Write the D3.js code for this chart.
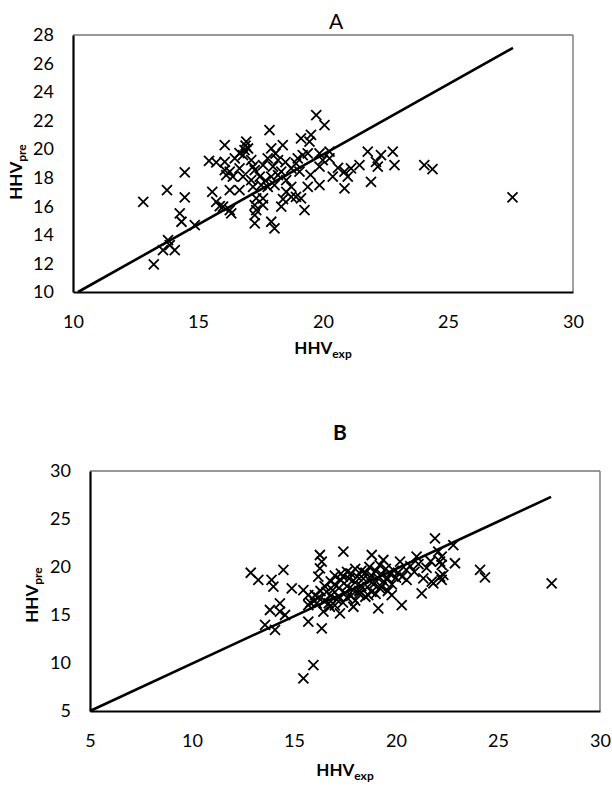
<!DOCTYPE html>
<html><head><meta charset="utf-8">
<script src="https://cdn.jsdelivr.net/npm/d3@7"></script>
<style>body{margin:0;background:#fff}svg{display:block;background:#fff}text{font-family:Lato,"Open Sans",sans-serif;fill:#000}</style>
</head><body><svg id="c" width="612" height="787"></svg>
<script>
// ---------- data ----------
const titleA = "A", titleB = "B";
const xTicksA = [10, 15, 20, 25, 30];
const yTicksA = [10, 12, 14, 16, 18, 20, 22, 24, 26, 28];
const xTicksB = [5, 10, 15, 20, 25, 30];
const yTicksB = [5, 10, 15, 20, 25, 30];
const lineA = [[10.2, 10], [27.6, 27.1]];
const lineB = [[5, 5], [27.6, 27.3]];

const pointsA = [
  [12.81,16.32],[13.76,17.14],[14.47,18.38],[14.47,16.63],[14.27,15.51],[14.34,14.92],[14.87,14.69],
  [13.80,13.64],[13.60,12.94],[14.07,12.94],[13.87,13.29],[13.23,11.94],
  [16.07,20.29],[15.44,19.19],[15.73,19.08],[15.57,17.02],[15.73,16.32],[15.87,16.02],[16.27,15.74],
  [16.33,15.51],[16.93,20.53],[16.86,19.94],[16.66,19.73],[16.13,18.19],[16.27,18.43],[16.39,18.08],
  [16.27,17.14],[16.66,17.14],[17.2,17.37],[17.2,18.78],[17.27,14.81],[17.33,15.74],[17.13,17.84],
  [19.73,22.39],[20.06,21.69],[17.86,21.34],[19.12,20.76],[19.52,21.0],[19.46,20.53],[18.39,20.29],
  [17.93,20.06],[19.86,19.71],[20.26,19.83],[20.26,19.36],[21.79,19.83],[22.32,19.59],[22.79,19.83],
  [22.86,18.89],[22.12,19.12],[22.19,18.78],[21.92,17.72],[21.46,18.89],[21.12,18.66],[20.86,18.43],
  [20.99,18.08],[20.86,17.26],[20.39,18.08],[19.86,18.78],[19.99,19.24],[19.86,17.49],[19.39,17.37],
  [19.06,18.43],[18.92,16.67],[19.12,16.56],[19.26,15.74],[18.33,15.98],[18.06,14.46],[17.93,14.92],
  [17.60,16.09],[17.27,16.09],[17.33,16.56],[16.0,15.98],[16.07,18.54],[16.07,19.12],[16.47,19.36],
  [16.80,19.59],[16.66,18.66],[16.80,18.08],[17.13,19.24],[17.27,18.54],[17.47,18.08],[17.53,17.49],
  [17.6,18.89],[17.79,19.36],[18.0,18.78],[18.20,19.24],[18.33,18.43],[18.53,17.84],[18.73,17.37],
  [18.73,16.67],[18.99,19.36],[19.19,19.59],[19.39,19.71],[18.53,17.02],[18.06,17.49],[17.79,17.37],
  [17.93,18.08],[18.20,18.19],[18.73,18.66],[18.92,19.01],[17.6,16.56],[17.27,15.39],[16.9,20.25],
  [17.0,20.05],[18.1,19.7],[18.5,19.1],[17.7,17.8],[18.4,16.5],[19.5,18.2],[20.6,18.7],
  [24.05,18.89],[24.38,18.61],[27.58,16.63]
];

const pointsB = [
  [12.88,19.4],[13.25,18.65],[13.9,18.65],[13.99,17.95],[14.48,19.69],[14.89,17.78],[13.82,15.52],
  [14.31,16.22],[14.31,15.34],[14.56,15.0],[13.58,13.96],[14.07,13.44],[15.46,17.6],[15.7,17.08],
  [15.7,16.04],[15.7,14.3],[16.36,13.61],[15.95,9.79],[15.46,8.4],[16.27,21.25],[16.36,20.55],
  [17.42,21.6],[16.27,19.86],[16.19,18.99],[16.03,17.08],[16.11,16.22],[16.44,15.34],[16.76,15.86],
  [17.25,15.17],[17.91,15.86],[18.64,17.08],[19.13,15.69],[20.28,16.04],[19.79,17.08],[18.81,21.25],
  [19.38,20.73],[20.2,20.55],[21.01,21.07],[21.26,17.26],[20.52,18.65],[21.91,22.98],[22.24,21.07],
  [22.24,20.21],[21.75,18.47],[22.24,18.65],[22.32,19.17],[22.07,21.6],[22.81,22.29],[22.89,20.39],
  [22.16,20.55],[24.12,19.69],[24.36,18.92],[27.63,18.3],[22.16,18.99],[21.83,18.3],[21.34,18.82],
  [16.8,17.0],[16.9,17.6],[17.0,18.2],[17.1,16.6],[17.2,17.8],[17.3,18.6],[17.4,19.0],[17.5,17.3],
  [17.6,18.0],[17.7,18.8],[17.8,19.3],[17.9,17.6],[18.0,18.4],[18.1,19.0],[18.2,17.2],[18.3,18.0],
  [18.4,18.8],[18.5,19.4],[18.6,17.9],[18.7,18.6],[18.8,19.1],[18.9,18.2],[19.0,19.6],[19.1,18.9],
  [19.2,17.8],[19.3,19.2],[19.4,18.5],[19.5,19.8],[19.6,18.8],[19.7,19.3],[19.8,18.2],[19.9,19.6],
  [20.0,18.9],[20.1,19.4],[20.3,19.0],[20.5,19.7],[20.7,20.1],[20.9,19.5],[21.1,20.3],[21.5,19.9],
  [21.7,20.6],[16.5,16.5],[16.6,17.4],[16.7,16.2],[17.0,16.0],[17.2,16.9],[17.4,16.3],[17.6,16.8],
  [17.8,17.0],[18.0,16.5],[18.2,17.5],[18.5,16.9],[18.8,17.4],[19.0,17.2],[19.3,17.9],[19.6,17.5],
  [17.3,19.3],[17.6,19.5],[18.0,19.8],[18.3,19.6],[18.7,20.0],[19.2,20.2],[17.0,19.1],[16.8,18.5],
  [16.5,18.0],[16.3,17.5],[16.0,16.5],[15.8,16.3],[16.2,16.8]
];

// ---------- drawing ----------
const svg = d3.select("#c");

function panel(cfg) {
  const x = d3.scaleLinear().domain(cfg.xDomain).range([cfg.left, cfg.right]);
  const y = d3.scaleLinear().domain(cfg.yDomain).range([cfg.bottom, cfg.top]);
  const g = svg.append("g");

  // plot-area border (top/right)
  g.append("line").attr("x1", cfg.left).attr("x2", cfg.right).attr("y1", cfg.top).attr("y2", cfg.top)
    .attr("stroke", "#333").attr("stroke-width", 1.2);
  g.append("line").attr("x1", cfg.right).attr("x2", cfg.right).attr("y1", cfg.top).attr("y2", cfg.bottom)
    .attr("stroke", "#777").attr("stroke-width", 1.4);

  // axes
  const ax = g.append("g").attr("transform", `translate(0,${cfg.bottom})`)
    .call(d3.axisBottom(x).tickValues(cfg.xTicks).tickSize(0).tickPadding(23).tickFormat(d3.format("d")));
  const ay = g.append("g").attr("transform", `translate(${cfg.left},0)`)
    .call(d3.axisLeft(y).tickValues(cfg.yTicks).tickSize(0).tickPadding(19).tickFormat(d3.format("d")));
  [ax, ay].forEach(a => {
    a.select(".domain").attr("stroke", "#000").attr("stroke-width", 2.2);
    a.selectAll("text").attr("font-size", 18).attr("font-family", "Lato").attr("fill", "#111");
  });

  // 1:1 line
  g.append("path").datum(cfg.line)
    .attr("d", d3.line().x(d => x(d[0])).y(d => y(d[1])))
    .attr("fill", "none").attr("stroke", "#000").attr("stroke-width", 2.6);

  // X markers
  const s = 5;
  g.append("g").selectAll("path").data(cfg.points).join("path")
    .attr("d", d => { const px = x(d[0]), py = y(d[1]);
      return `M${px - s},${py - s}L${px + s},${py + s}M${px + s},${py - s}L${px - s},${py + s}`; })
    .attr("fill", "none").attr("stroke", "#000").attr("stroke-width", 1.8);

  // title
  g.append("text").attr("x", cfg.titleX).attr("y", cfg.titleY).attr("text-anchor", "middle")
    .attr("font-size", 21).attr("font-weight", cfg.titleBold ? "bold" : "normal").text(cfg.title);

  // x-axis title
  const xt = g.append("text").attr("x", (cfg.left + cfg.right) / 2).attr("y", cfg.xTitleY)
    .attr("text-anchor", "middle").attr("font-weight", "bold").attr("font-size", 17);
  xt.append("tspan").text("HHV");
  xt.append("tspan").attr("font-size", 12).attr("dy", 4).text("exp");

  // y-axis title
  const yt = g.append("text").attr("transform", `translate(${cfg.yTitleX},${cfg.yTitleCenter}) rotate(-90)`)
    .attr("text-anchor", "middle").attr("font-weight", "bold").attr("font-size", 17);
  yt.append("tspan").text("HHV");
  yt.append("tspan").attr("font-size", 12).attr("dy", 4).text("pre");
}

panel({
  left: 73, right: 573, top: 35, bottom: 292,
  xDomain: [10, 30], yDomain: [10, 28], xTicks: xTicksA, yTicks: yTicksA,
  line: lineA, points: pointsA, title: titleA, titleBold: false, titleX: 336, titleY: 29,
  xTitleY: 354, yTitleX: 22, yTitleCenter: 172
});
panel({
  left: 90, right: 600, top: 471, bottom: 711,
  xDomain: [5, 30], yDomain: [5, 30], xTicks: xTicksB, yTicks: yTicksB,
  line: lineB, points: pointsB, title: titleB, titleBold: true, titleX: 340, titleY: 440,
  xTitleY: 776, yTitleX: 38, yTitleCenter: 595
});
</script></body></html>
